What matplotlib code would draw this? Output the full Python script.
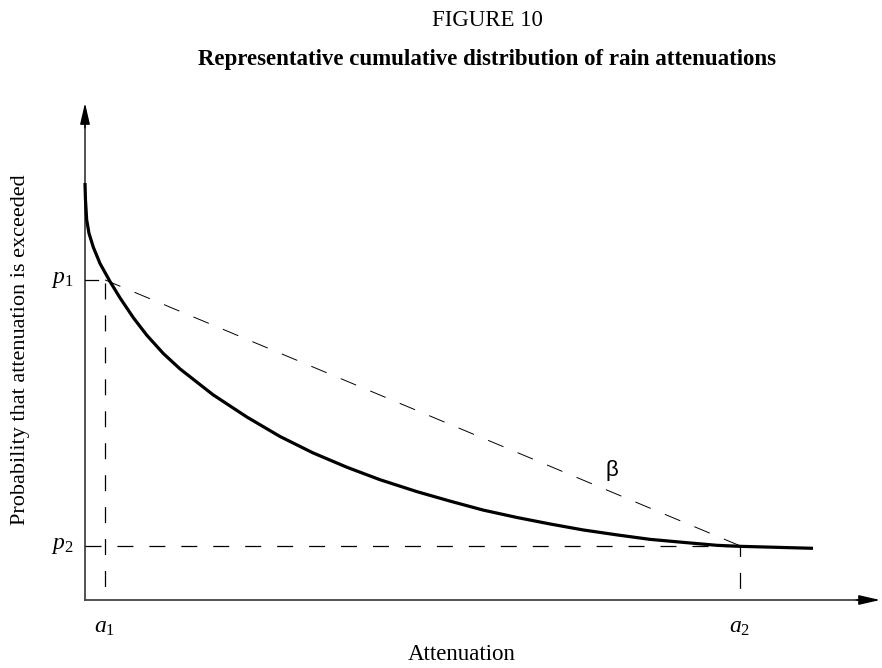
import matplotlib
matplotlib.use("Agg")
import matplotlib.pyplot as plt

plt.rcParams['font.family'] = ['Liberation Serif', 'DejaVu Serif']
plt.rcParams['mathtext.fontset'] = 'custom'
plt.rcParams['mathtext.rm'] = 'Liberation Serif'
plt.rcParams['mathtext.it'] = 'Liberation Serif:italic'
plt.rcParams['lines.scale_dashes'] = False

# Curve: attenuation (x) vs probability exceeded (y), arbitrary units
atten = [0.000, 0.006, 0.021, 0.050, 0.104, 0.189, 0.314, 0.440, 0.608, 0.776,
         0.985, 1.195, 1.610, 2.038, 2.453, 2.868, 3.296, 3.711, 4.176, 4.591,
         5.006, 5.434, 5.849, 6.264, 6.692, 7.107, 7.522, 7.950, 8.239, 9.157]
prob = [0.839, 0.805, 0.765, 0.738, 0.710, 0.677, 0.641, 0.608, 0.568, 0.533,
        0.496, 0.465, 0.413, 0.368, 0.329, 0.296, 0.267, 0.242, 0.218, 0.199,
        0.181, 0.166, 0.153, 0.141, 0.131, 0.122, 0.116, 0.110, 0.108, 0.104]
a1, a2 = 0.252, 8.24
p1, p2 = 0.644, 0.109

fig = plt.figure(figsize=(8.82, 6.68), dpi=100)
ax = fig.add_axes([85/882, 1 - 600/668, (880-85)/882, (600-103)/668])
ax.set_xlim(0, 10)
ax.set_ylim(0, 1)
ax.axis('off')

# axes with arrows
ax.plot([0, 0.985], [0, 0], color='#444444', lw=1.3, transform=ax.transAxes, clip_on=False)
ax.plot([0, 0], [0, 0.97], color='#444444', lw=1.3, transform=ax.transAxes, clip_on=False)
ax.annotate('', xy=(1.0, 0), xytext=(0.97, 0), xycoords='axes fraction',
            arrowprops=dict(arrowstyle='-|>,head_length=1.3,head_width=0.3',
                            color='black', lw=1.0, shrinkA=0, shrinkB=0), annotation_clip=False)
ax.annotate('', xy=(0, 1.0), xytext=(0, 0.95), xycoords='axes fraction',
            arrowprops=dict(arrowstyle='-|>,head_length=1.3,head_width=0.3',
                            color='black', lw=1.0, shrinkA=0, shrinkB=0), annotation_clip=False)

# curve
ax.plot(atten, prob, color='black', lw=2.3, solid_capstyle='butt',
        solid_joinstyle='round', clip_on=False)

# dashed guide lines
ax.plot([0, a2], [p2, p2], color='black', lw=0.9, linestyle=(0, (11.5, 11.5)))
ax.plot([a1, a1], [p1 - 0.006, 0], color='black', lw=0.9, linestyle=(0, (11.5, 11.5)))
ax.plot([a2, a2], [p2, 0], color='black', lw=0.9, linestyle=(4, (11.5, 11.5)))
ax.plot([a1, a2], [p1, p2], color='black', lw=0.7, linestyle=(0, (12, 11)))
ax.plot([0, 0.16], [p1, p1], color='black', lw=0.9)

ax.text(6.63, 0.26, 'β', fontsize=16, family=['Liberation Sans', 'DejaVu Sans'],
        ha='center', va='center')

ax.text(-0.14, p1, '$p_1$', fontsize=17, ha='right', va='center')
ax.text(-0.14, p2, '$p_2$', fontsize=17, ha='right', va='center')
ax.text(a1, -0.035, '$a_1$', fontsize=17, ha='center', va='top')
ax.text(a2, -0.035, '$a_2$', fontsize=17, ha='center', va='top')

fig.text(462/882, 1 - 655/668, 'Attenuation', fontsize=16.5, ha='center', va='center')
fig.text(21/882, 1 - 350/668, 'Probability that attenuation is exceeded', fontsize=16,
         ha='center', va='center', rotation=90)
fig.text(487/882, 1 - 20/668, 'FIGURE 10', fontsize=16.5, ha='center', va='center')
fig.text(487/882, 1 - 60/668, 'Representative cumulative distribution of rain attenuations',
         fontsize=16.5, fontweight='bold', ha='center', va='center')

fig.savefig('out.png', dpi=100)
